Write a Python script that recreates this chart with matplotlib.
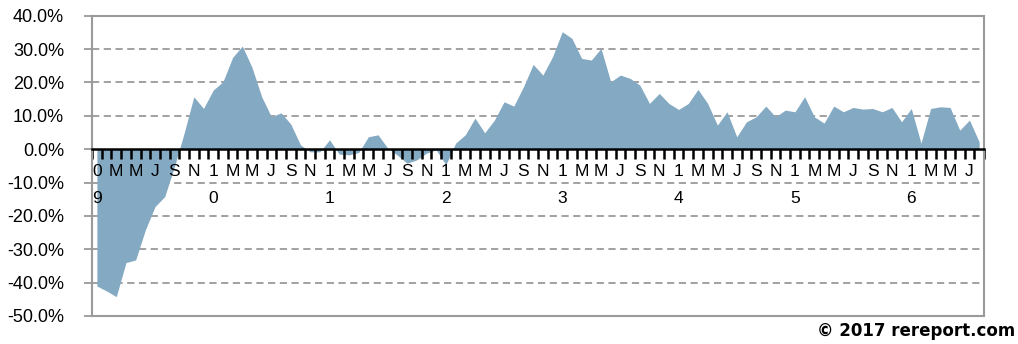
import matplotlib
matplotlib.use("Agg")
import matplotlib.pyplot as plt
import numpy as np

# Monthly values Jan 2009 - Aug 2016 (%)
values = [
    -41.0, -42.5, -44.2, -34.0, -33.2, -24.2, -17.2, -14.2, -5.2, 4.8, 15.7, 12.2,   # 2009
    17.7, 20.2, 27.5, 30.9, 24.5, 15.7, 9.7, 10.9, 7.5, 1.3, -0.8, -0.8,             # 2010
    2.8, -1.5, -1.7, -1.0, 3.7, 4.3, 0.3, -1.8, -4.2, -3.2, -1.2, -0.2,              # 2011
    -4.7, 1.8, 4.3, 9.3, 4.9, 8.7, 14.2, 12.9, 18.7, 25.4, 22.2, 27.7,              # 2012
    35.2, 33.2, 27.2, 26.7, 30.2, 20.2, 22.2, 21.2, 19.2, 13.7, 16.7, 13.7,         # 2013
    11.9, 13.7, 17.9, 13.7, 7.2, 11.2, 3.7, 8.2, 9.7, 12.9, 9.7, 11.7,              # 2014
    11.2, 15.7, 9.7, 7.8, 12.9, 11.2, 12.5, 12.0, 12.2, 11.2, 12.5, 8.2,            # 2015
    12.2, 1.8, 12.2, 12.7, 12.5, 5.7, 8.7, 2.2,                                     # 2016
]
start_year = 2009
month_letters = ["1", "F", "M", "A", "M", "J", "J", "A", "S", "O", "N", "D"]
y_ticks = [40, 30, 20, 10, 0, -10, -20, -30, -40, -50]

n = len(values)
x = np.arange(n) + 0.5

fig = plt.figure(figsize=(10.18, 3.44), dpi=100)
ax = fig.add_axes([0.0904, 0.0814, 0.8762, 0.873])
ax.set_axisbelow(False)

ax.fill_between(x, values, 0, color="#84a9c3", linewidth=0, zorder=2)

ax.set_xlim(0, n)
ax.set_ylim(-50, 40)

# gridlines
for yt in y_ticks:
    if yt in (40, -50, 0):
        continue
    ax.axhline(yt, color="#9a9a9a", linestyle=(0, (4, 2.5)), linewidth=1.3, zorder=1)

# frame
for s in ["top", "left", "right"]:
    ax.spines[s].set_color("#9a9a9a")
    ax.spines[s].set_linewidth(1.5)
    ax.spines[s].set_zorder(3)
ax.axhline(-50, color="#9a9a9a", linewidth=1.5, clip_on=False, zorder=3)

# x axis on zero line
ax.spines["bottom"].set_position(("data", 0))
ax.spines["bottom"].set_color("black")
ax.spines["bottom"].set_linewidth(1.8)
ax.spines["bottom"].set_zorder(5)

ax.xaxis.set_ticks_position("bottom")
ax.set_xticks(np.arange(0, n + 1), minor=True)
labels_pos = []
labels_txt = []
for i in range(n):
    m = i % 12
    if m % 2 == 0:
        labels_pos.append(i + 0.5)
        if m == 0:
            yy = str(start_year + i // 12)[2:]
            labels_txt.append(yy[0] + "\n" + yy[1])
        else:
            labels_txt.append(month_letters[m])
ax.set_xticks(labels_pos)
ax.set_xticklabels(labels_txt, fontsize=12.5, family="Liberation Sans", linespacing=1.95)
ax.tick_params(axis="x", which="major", length=0, pad=11)
ax.tick_params(axis="x", which="minor", length=7, width=1.8, color="black",
               direction="out", bottom=True)

ax.set_yticks(y_ticks)
ax.set_yticklabels([f"{v:.1f}%" for v in y_ticks], fontsize=13, family="Liberation Sans")
ax.tick_params(axis="y", which="major", length=6, width=1.3, color="#9a9a9a", pad=14)
ax.tick_params(axis="y", which="minor", length=0)

fig.text(0.997, 0.012, "© 2017 rereport.com", ha="right", va="bottom",
         fontsize=12, fontweight="bold", family="DejaVu Sans")

fig.savefig("out.png", dpi=100)
